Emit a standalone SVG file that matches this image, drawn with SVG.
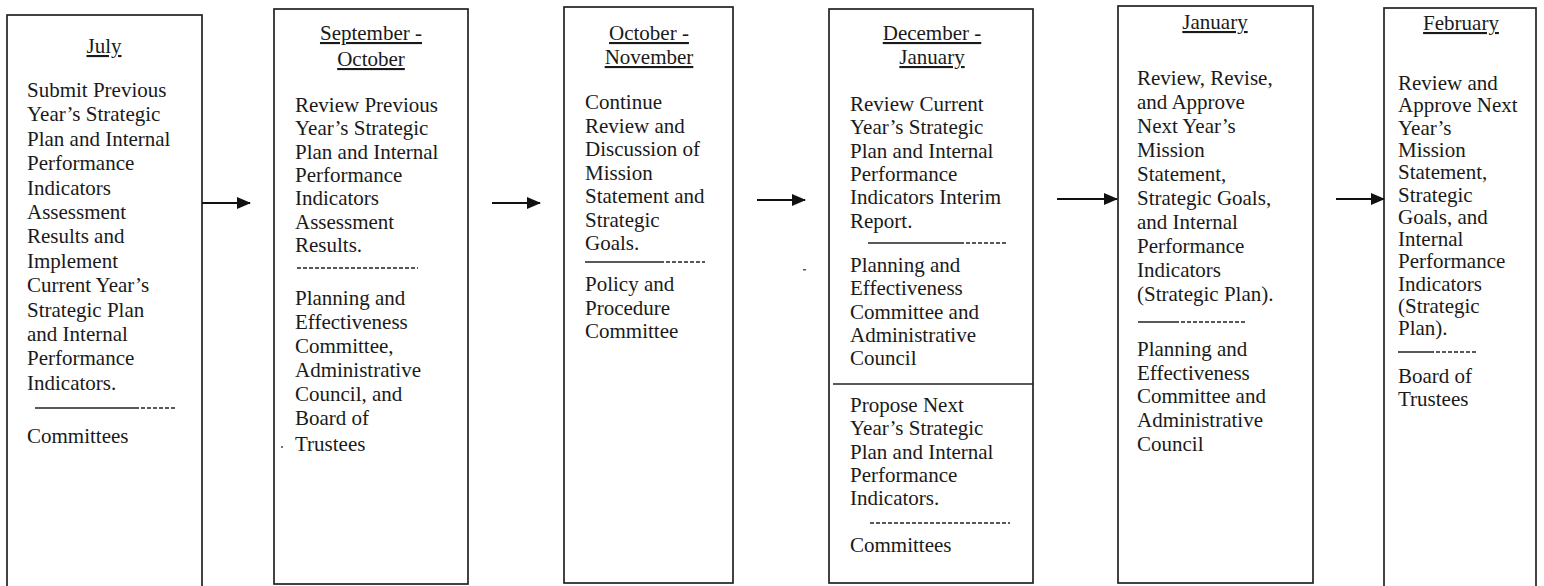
<svg xmlns="http://www.w3.org/2000/svg" width="1544" height="586" viewBox="0 0 1544 586">
<style>
.box{fill:#fff;stroke:#222;stroke-width:1.7}
.t{font-family:"Liberation Serif","Times New Roman",serif;font-size:21px;fill:#1a1a1a}
.h{text-anchor:middle;text-decoration:underline}
.div{stroke:#222;stroke-width:1.5}
.dash{stroke:#222;stroke-width:1.5;stroke-dasharray:4 2}
.arr{stroke:#111;stroke-width:2.2;fill:none}
</style>
<defs>
<marker id="ah" markerUnits="userSpaceOnUse" markerWidth="14" markerHeight="12" refX="13" refY="6" orient="auto">
<path d="M0,0 L14,6 L0,12 z" fill="#111"/>
</marker>
</defs>
<rect width="1544" height="586" fill="#fff"/>

<g id="july">
<rect class="box" x="7" y="15" width="195" height="575"/>
<text class="t h" x="104" y="53">July</text>
<text class="t" x="27">
<tspan x="27" y="97">Submit Previous</tspan>
<tspan x="27" y="121.4">Year’s Strategic</tspan>
<tspan x="27" y="145.8">Plan and Internal</tspan>
<tspan x="27" y="170.2">Performance</tspan>
<tspan x="27" y="194.6">Indicators</tspan>
<tspan x="27" y="219">Assessment</tspan>
<tspan x="27" y="243.4">Results and</tspan>
<tspan x="27" y="267.8">Implement</tspan>
<tspan x="27" y="292.2">Current Year’s</tspan>
<tspan x="27" y="316.6">Strategic Plan</tspan>
<tspan x="27" y="341">and Internal</tspan>
<tspan x="27" y="365.4">Performance</tspan>
<tspan x="27" y="389.8">Indicators.</tspan>
</text>
<line class="div" x1="35" y1="408" x2="135" y2="408"/>
<line class="dash" x1="135" y1="408" x2="177" y2="408"/>
<text class="t" x="27" y="443">Committees</text>
</g>

<g id="sep-oct">
<rect class="box" x="274" y="9" width="194" height="575"/>
<text class="t h" x="371" y="40">September -</text>
<text class="t h" x="371" y="66">October</text>
<text class="t">
<tspan x="295" y="112">Review Previous</tspan>
<tspan x="295" y="135.3">Year’s Strategic</tspan>
<tspan x="295" y="158.6">Plan and Internal</tspan>
<tspan x="295" y="181.9">Performance</tspan>
<tspan x="295" y="205.2">Indicators</tspan>
<tspan x="295" y="228.5">Assessment</tspan>
<tspan x="295" y="251.8">Results.</tspan>
</text>
<line class="dash" x1="297" y1="268" x2="418" y2="268"/>
<text class="t">
<tspan x="295" y="305">Planning and</tspan>
<tspan x="295" y="329">Effectiveness</tspan>
<tspan x="295" y="353">Committee,</tspan>
<tspan x="295" y="377">Administrative</tspan>
<tspan x="295" y="401">Council, and</tspan>
<tspan x="295" y="425">Board of</tspan>
<tspan x="295" y="451">Trustees</tspan>
</text>
<circle cx="282" cy="447" r="1" fill="#444"/>
</g>

<g id="oct-nov">
<rect class="box" x="564" y="7" width="169" height="576"/>
<text class="t h" x="649" y="40">October -</text>
<text class="t h" x="649" y="64">November</text>
<text class="t">
<tspan x="585" y="109">Continue</tspan>
<tspan x="585" y="132.5">Review and</tspan>
<tspan x="585" y="156">Discussion of</tspan>
<tspan x="585" y="179.5">Mission</tspan>
<tspan x="585" y="203">Statement and</tspan>
<tspan x="585" y="226.5">Strategic</tspan>
<tspan x="585" y="250">Goals.</tspan>
</text>
<line class="div" x1="585" y1="262" x2="660" y2="262"/>
<line class="dash" x1="660" y1="262" x2="705" y2="262"/>
<text class="t">
<tspan x="585" y="291">Policy and</tspan>
<tspan x="585" y="314.5">Procedure</tspan>
<tspan x="585" y="338">Committee</tspan>
</text>
<rect x="803" y="269" width="3" height="1.5" fill="#555"/>
</g>

<g id="dec-jan">
<rect class="box" x="829" y="9" width="204" height="574"/>
<text class="t h" x="932" y="40">December -</text>
<text class="t h" x="932" y="64">January</text>
<text class="t">
<tspan x="850" y="111">Review Current</tspan>
<tspan x="850" y="134.3">Year’s Strategic</tspan>
<tspan x="850" y="157.6">Plan and Internal</tspan>
<tspan x="850" y="180.9">Performance</tspan>
<tspan x="850" y="204.2">Indicators Interim</tspan>
<tspan x="850" y="227.5">Report.</tspan>
</text>
<line class="div" x1="868" y1="243" x2="960" y2="243"/>
<line class="dash" x1="960" y1="243" x2="1008" y2="243"/>
<text class="t">
<tspan x="850" y="272">Planning and</tspan>
<tspan x="850" y="295.3">Effectiveness</tspan>
<tspan x="850" y="318.6">Committee and</tspan>
<tspan x="850" y="341.9">Administrative</tspan>
<tspan x="850" y="365.2">Council</tspan>
</text>
<line class="div" x1="833" y1="384" x2="1033" y2="384"/>
<text class="t">
<tspan x="850" y="412">Propose Next</tspan>
<tspan x="850" y="435.3">Year’s Strategic</tspan>
<tspan x="850" y="458.6">Plan and Internal</tspan>
<tspan x="850" y="481.9">Performance</tspan>
<tspan x="850" y="505.2">Indicators.</tspan>
</text>
<line class="dash" x1="870" y1="523" x2="1010" y2="523"/>
<text class="t" x="850" y="552">Committees</text>
</g>

<g id="january">
<rect class="box" x="1118" y="6" width="195" height="577"/>
<text class="t h" x="1215" y="29">January</text>
<text class="t">
<tspan x="1137" y="85">Review, Revise,</tspan>
<tspan x="1137" y="109">and Approve</tspan>
<tspan x="1137" y="133">Next Year’s</tspan>
<tspan x="1137" y="157">Mission</tspan>
<tspan x="1137" y="181">Statement,</tspan>
<tspan x="1137" y="205">Strategic Goals,</tspan>
<tspan x="1137" y="229">and Internal</tspan>
<tspan x="1137" y="253">Performance</tspan>
<tspan x="1137" y="277">Indicators</tspan>
<tspan x="1137" y="301">(Strategic Plan).</tspan>
</text>
<line class="div" x1="1138" y1="322" x2="1175" y2="322"/>
<line class="dash" x1="1175" y1="322" x2="1245" y2="322"/>
<text class="t">
<tspan x="1137" y="356">Planning and</tspan>
<tspan x="1137" y="379.7">Effectiveness</tspan>
<tspan x="1137" y="403.4">Committee and</tspan>
<tspan x="1137" y="427.1">Administrative</tspan>
<tspan x="1137" y="450.8">Council</tspan>
</text>
</g>

<g id="february">
<rect class="box" x="1384" y="8" width="152" height="580"/>
<text class="t h" x="1461" y="30">February</text>
<text class="t">
<tspan x="1398" y="90">Review and</tspan>
<tspan x="1398" y="112.3">Approve Next</tspan>
<tspan x="1398" y="134.6">Year’s</tspan>
<tspan x="1398" y="156.9">Mission</tspan>
<tspan x="1398" y="179.2">Statement,</tspan>
<tspan x="1398" y="201.5">Strategic</tspan>
<tspan x="1398" y="223.8">Goals, and</tspan>
<tspan x="1398" y="246.1">Internal</tspan>
<tspan x="1398" y="268.4">Performance</tspan>
<tspan x="1398" y="290.7">Indicators</tspan>
<tspan x="1398" y="313">(Strategic</tspan>
<tspan x="1398" y="335.3">Plan).</tspan>
</text>
<line class="div" x1="1398" y1="352" x2="1430" y2="352"/>
<line class="dash" x1="1430" y1="352" x2="1478" y2="352"/>
<text class="t">
<tspan x="1398" y="383">Board of</tspan>
<tspan x="1398" y="406">Trustees</tspan>
</text>
</g>

<g id="connectors">
<line class="arr" x1="202" y1="203" x2="250" y2="203" marker-end="url(#ah)"/>
<line class="arr" x1="492" y1="203" x2="540" y2="203" marker-end="url(#ah)"/>
<line class="arr" x1="757" y1="200" x2="805" y2="200" marker-end="url(#ah)"/>
<line class="arr" x1="1057" y1="199" x2="1117" y2="199" marker-end="url(#ah)"/>
<line class="arr" x1="1336" y1="199" x2="1384" y2="199" marker-end="url(#ah)"/>
</g>
</svg>
